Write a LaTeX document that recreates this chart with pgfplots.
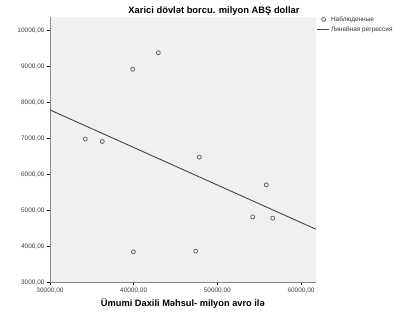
\documentclass[border=0pt]{standalone}
\usepackage{pgfplots}
\pgfplotsset{compat=1.18}
\usepackage{fontspec}
\setmainfont{Liberation Sans}
\definecolor{bgc}{HTML}{F0F0F0}
\definecolor{axc}{HTML}{8A8A8A}
\definecolor{mkc}{HTML}{666666}
\definecolor{lnc}{HTML}{444444}
\begin{document}
\begin{tikzpicture}[x=1bp,y=1bp]
\path[use as bounding box] (0,0) rectangle (406,318);
\begin{axis}[
  at={(50bp,35.7bp)}, anchor=south west,
  scale only axis, width=265.7bp, height=265bp,
  xmin=30000, xmax=61756, ymin=3000, ymax=10367,
  xtick={30000,40000,50000,60000},
  ytick={3000,4000,5000,6000,7000,8000,9000,10000},
  scaled ticks=false,
  axis background/.style={fill=bgc},
  axis line style={axc, line width=0.9pt},
  axis x line*=bottom, axis y line*=left,
  tick align=outside, tick style={black, line width=0.5pt},
  major tick length=3bp,
  tick label style={font=\fontsize{6.5}{7.5}\selectfont, text=black!75},
  /pgf/number format/.cd, fixed, fixed zerofill, precision=2, use comma, 1000 sep={}, assume math mode=true,
  /pgfplots/.cd,
  xticklabel style={yshift=1bp},
  yticklabel style={xshift=1bp},
  xlabel={\textbf{Ümumi Daxili Məhsul- milyon avro ilə}},
  xlabel style={font=\fontsize{9.3}{11}\selectfont, at={(axis description cs:0.5,0)}, anchor=center, yshift=-21bp},
  legend style={at={(1.001,1.012)}, anchor=north west, draw=none, fill=none,
    font=\fontsize{6.5}{7}\selectfont, inner sep=0pt, row sep=-0.3bp,
    cells={anchor=west}, text=black!80,
    /tikz/every even column/.append style={column sep=0pt}},
  legend cell align=left,
]
\addplot[only marks, mark=o, mark size=2bp, mark options={mkc, line width=0.8pt},
  legend image code/.code={\draw[mkc, line width=0.8pt] (7bp,0) circle (2bp); \path[draw=none, fill=none] (0,0) -- (12bp,0);}] coordinates {
(42943,9383) (39884,8922) (34219,6986) (36251,6914) (47843,6478)
(55851,5708) (54225,4819) (56616,4783) (39958,3847) (47413,3867)
};
\addlegendentry{Наблюденные}
\addplot[lnc, line width=0.9pt,
  legend image code/.code={\draw[lnc, line width=0.9pt] (0,0) -- (12bp,0);}] coordinates {(30000,7792) (61756,4478)};
\addlegendentry{Линейная регрессия}
\end{axis}
\node[font=\bfseries\fontsize{9.4}{11}\selectfont] at (214,307) {Xarici dövlət borcu. milyon ABŞ dollar};
\end{tikzpicture}
\end{document}
